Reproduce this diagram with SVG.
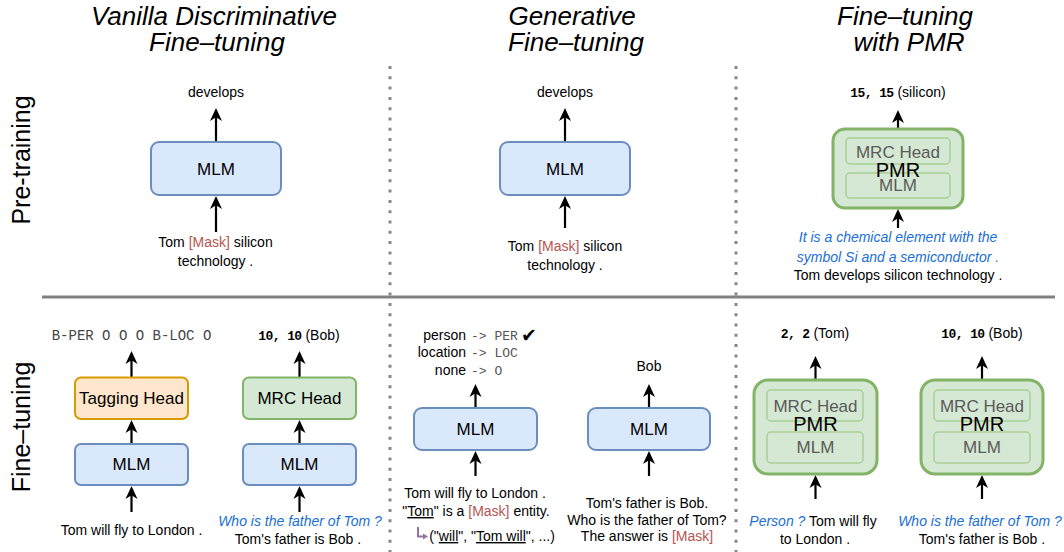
<svg xmlns="http://www.w3.org/2000/svg" width="1064" height="552" viewBox="0 0 1064 552">
<defs>
<style>
text{font-family:"Liberation Sans",Arial,sans-serif;fill:#000}
.t{font-size:14px;text-anchor:middle}
.title{font-size:26px;font-style:italic;text-anchor:middle}
.side{font-size:25px;text-anchor:middle}
.lbl{font-size:17px;text-anchor:middle}
.pm{font-size:20px;text-anchor:middle}
.mono{font-family:"Liberation Mono","Courier New",monospace}
.bm{font-family:"Liberation Mono","Courier New",monospace;font-weight:bold;font-size:13px;letter-spacing:-0.6px}
.blue{fill:#1a6fd6;font-style:italic}
.red{fill:#b85450}
.ul{text-decoration:underline}
.mlm{fill:#dae8fc;stroke:#6c8ebf;stroke-width:2}
.tag{fill:#ffe6cc;stroke:#d79b00;stroke-width:2}
.mrc{fill:#d5e8d4;stroke:#82b366;stroke-width:2}
.pmr{fill:#d5e8d4;stroke:#82b366;stroke-width:3}
.inner{fill:#d5e8d4;stroke:#a9cf95;stroke-width:1.5}
.gray{fill:#5a5a5a}
.arr{stroke:#000;stroke-width:2.2;fill:none;marker-end:url(#ah)}
.farr{stroke:#c4bad6;stroke-width:1.2;fill:none;marker-end:url(#fh)}
.sep{stroke:#808080;stroke-width:3;fill:none}
.dot{stroke:#888;stroke-width:3;stroke-dasharray:3 7.3;fill:none}
</style>
<marker id="ah" markerUnits="userSpaceOnUse" viewBox="0 0 13 13" refX="9" refY="6.5" markerWidth="13" markerHeight="13" orient="auto"><path d="M0,0.5 L13,6.5 L0,12.5 L3.8,6.5 Z" fill="#000"/></marker>
<marker id="fh" markerUnits="userSpaceOnUse" viewBox="0 0 6 6" refX="4" refY="3" markerWidth="6" markerHeight="6" orient="auto"><path d="M0,0.5 L6,3 L0,5.5 L1.5,3 Z" fill="#c4bad6"/></marker>
</defs>

<g id="titles">
<text class="title" x="214" y="25">Vanilla Discriminative</text>
<text class="title" x="217" y="51">Fine–tuning</text>
<text class="title" x="572" y="25">Generative</text>
<text class="title" x="576" y="51">Fine–tuning</text>
<text class="title" x="905" y="25">Fine–tuning</text>
<text class="title" x="909" y="51">with PMR</text>
<text class="side" transform="translate(30,160) rotate(-90)">Pre-training</text>
<text class="side" transform="translate(30,427) rotate(-90)">Fine–tuning</text>
</g>

<g id="separators">
<line class="sep" x1="42" y1="297" x2="1055" y2="297"/>
<line class="dot" x1="390" y1="66" x2="390" y2="552"/>
<line class="dot" x1="736" y1="66" x2="736" y2="552"/>
</g>

<g id="connectors">
<line class="arr" x1="216" y1="142" x2="216" y2="112"/>
<line class="arr" x1="216" y1="232" x2="216" y2="200"/>
<line class="arr" x1="565" y1="142" x2="565" y2="112"/>
<line class="arr" x1="565" y1="228" x2="565" y2="200"/>
<line class="arr" x1="898" y1="129" x2="898" y2="114"/>
<line class="arr" x1="898" y1="228" x2="898" y2="213"/>
<line class="farr" x1="898" y1="138" x2="898" y2="133"/>
<line class="farr" x1="898" y1="208" x2="898" y2="202"/>
<line class="arr" x1="131.5" y1="377" x2="131.5" y2="355"/>
<line class="arr" x1="131.5" y1="444" x2="131.5" y2="424"/>
<line class="arr" x1="131.5" y1="512" x2="131.5" y2="490"/>
<line class="arr" x1="299.5" y1="377" x2="299.5" y2="355"/>
<line class="arr" x1="299.5" y1="444" x2="299.5" y2="424"/>
<line class="arr" x1="299.5" y1="512" x2="299.5" y2="490"/>
<line class="arr" x1="475.5" y1="408" x2="475.5" y2="388"/>
<line class="arr" x1="475.5" y1="476" x2="475.5" y2="455"/>
<line class="arr" x1="649" y1="408" x2="649" y2="388"/>
<line class="arr" x1="649" y1="476" x2="649" y2="455"/>
<line class="arr" x1="815.5" y1="380" x2="815.5" y2="360"/>
<line class="arr" x1="815.5" y1="499" x2="815.5" y2="479"/>
<line class="farr" x1="815.5" y1="390" x2="815.5" y2="384"/>
<line class="farr" x1="815.5" y1="474" x2="815.5" y2="467"/>
<line class="arr" x1="982" y1="380" x2="982" y2="360"/>
<line class="arr" x1="982" y1="499" x2="982" y2="479"/>
<line class="farr" x1="982" y1="390" x2="982" y2="384"/>
<line class="farr" x1="982" y1="474" x2="982" y2="467"/>
</g>

<g id="pt-vanilla">
<text class="t" x="216" y="97">develops</text>
<rect class="mlm" x="151" y="142" width="130" height="53" rx="8"/>
<text class="lbl" x="216" y="175">MLM</text>
<text class="t" x="215.5" y="247">Tom <tspan class="red">[Mask]</tspan> silicon</text>
<text class="t" x="215.5" y="266">technology .</text>
</g>

<g id="pt-generative">
<text class="t" x="565" y="97">develops</text>
<rect class="mlm" x="500" y="142" width="130" height="53" rx="8"/>
<text class="lbl" x="565" y="175">MLM</text>
<text class="t" x="565" y="251">Tom <tspan class="red">[Mask]</tspan> silicon</text>
<text class="t" x="565" y="270">technology .</text>
</g>

<g id="pt-pmr">
<text class="t" x="898" y="97"><tspan class="bm">15, 15</tspan> (silicon)</text>
<rect class="pmr" x="833" y="129" width="130" height="79" rx="12"/>
<rect class="inner" x="846" y="138" width="104" height="26" rx="4"/>
<rect class="inner" x="846" y="173" width="104" height="25" rx="4"/>
<text class="lbl gray" x="898" y="158">MRC Head</text>
<text class="lbl gray" x="898" y="191">MLM</text>
<text class="pm" x="898" y="177">PMR</text>
<text class="t blue" x="898" y="242">It is a chemical element with the</text>
<text class="t blue" x="898" y="262">symbol Si and a semiconductor .</text>
<text class="t" x="898" y="280">Tom develops silicon technology .</text>
</g>

<g id="ft-tagging">
<text class="mono" x="131.5" y="340" style="font-size:14px;text-anchor:middle;fill:#444">B-PER O O O B-LOC O</text>
<rect class="tag" x="75" y="377.5" width="113" height="41.5" rx="6"/>
<text class="lbl" x="131.5" y="404">Tagging Head</text>
<rect class="mlm" x="75" y="444" width="113" height="41" rx="6"/>
<text class="lbl" x="131.5" y="470">MLM</text>
<text class="t" x="131.5" y="535">Tom will fly to London .</text>
</g>

<g id="ft-mrc">
<text class="t" x="299" y="340"><tspan class="bm">10, 10</tspan> (Bob)</text>
<rect class="mrc" x="243" y="377.5" width="113" height="41.5" rx="6"/>
<text class="lbl" x="299.5" y="404">MRC Head</text>
<rect class="mlm" x="243" y="444" width="113" height="41" rx="6"/>
<text class="lbl" x="299.5" y="470">MLM</text>
<text class="t blue" x="300" y="526">Who is the father of Tom ?</text>
<text class="t" x="298" y="544">Tom's father is Bob .</text>
</g>

<g id="ft-gen-ner">
<text class="t" x="466" y="340" style="text-anchor:end">person</text>
<text class="t" x="466" y="357" style="text-anchor:end">location</text>
<text class="t" x="466" y="375" style="text-anchor:end">none</text>
<text class="mono" x="471" y="340" style="font-size:13px;fill:#555">-&gt;  PER</text>
<text class="mono" x="471" y="357" style="font-size:13px;fill:#555">-&gt;  LOC</text>
<text class="mono" x="471" y="375" style="font-size:13px;fill:#555">-&gt;  O</text>
<text x="521" y="342" style="font-family:'DejaVu Sans',sans-serif;font-size:19px">✔</text>
<rect class="mlm" x="414" y="408" width="123" height="42" rx="8"/>
<text class="lbl" x="475.5" y="435">MLM</text>
<text class="t" x="475" y="498">Tom will fly to London .</text>
<text class="t" x="476" y="516">"<tspan class="ul">Tom</tspan>" is a <tspan class="red">[Mask]</tspan> entity.</text>
<path d="M418,527 V536.5 H424" fill="none" stroke="#9673a6" stroke-width="2"/>
<path d="M423,533.5 L428,536.5 L423,539.5 Z" fill="#9673a6"/>
<text class="t" x="492" y="541">("<tspan class="ul">will</tspan>", "<tspan class="ul">Tom will</tspan>", ...)</text>
</g>

<g id="ft-gen-mrc">
<text class="t" x="649" y="371">Bob</text>
<rect class="mlm" x="588" y="408" width="122" height="42" rx="8"/>
<text class="lbl" x="649" y="435">MLM</text>
<text class="t" x="647" y="508">Tom's father is Bob.</text>
<text class="t" x="647" y="525">Who is the father of Tom?</text>
<text class="t" x="647" y="541">The answer is <tspan class="red">[Mask]</tspan></text>
</g>

<g id="ft-pmr-ner">
<text class="t" x="815" y="338"><tspan class="bm">2, 2</tspan> (Tom)</text>
<rect class="pmr" x="754" y="380" width="123" height="94" rx="14"/>
<rect class="inner" x="767" y="390" width="96" height="31" rx="4"/>
<rect class="inner" x="767" y="432" width="96" height="31" rx="4"/>
<text class="lbl gray" x="815.5" y="412">MRC Head</text>
<text class="lbl gray" x="815.5" y="453">MLM</text>
<text class="pm" x="815.5" y="431">PMR</text>
<text class="t" x="813" y="526"><tspan class="blue">Person ?</tspan>  Tom will fly</text>
<text class="t" x="815" y="544">to London .</text>
</g>

<g id="ft-pmr-mrc">
<text class="t" x="982" y="338"><tspan class="bm">10, 10</tspan> (Bob)</text>
<rect class="pmr" x="921" y="380" width="122" height="94" rx="14"/>
<rect class="inner" x="934" y="390" width="96" height="31" rx="4"/>
<rect class="inner" x="934" y="432" width="96" height="31" rx="4"/>
<text class="lbl gray" x="982" y="412">MRC Head</text>
<text class="lbl gray" x="982" y="453">MLM</text>
<text class="pm" x="982" y="431">PMR</text>
<text class="t blue" x="980" y="526">Who is the father of Tom ?</text>
<text class="t" x="982" y="544">Tom's father is Bob .</text>
</g>
</svg>
